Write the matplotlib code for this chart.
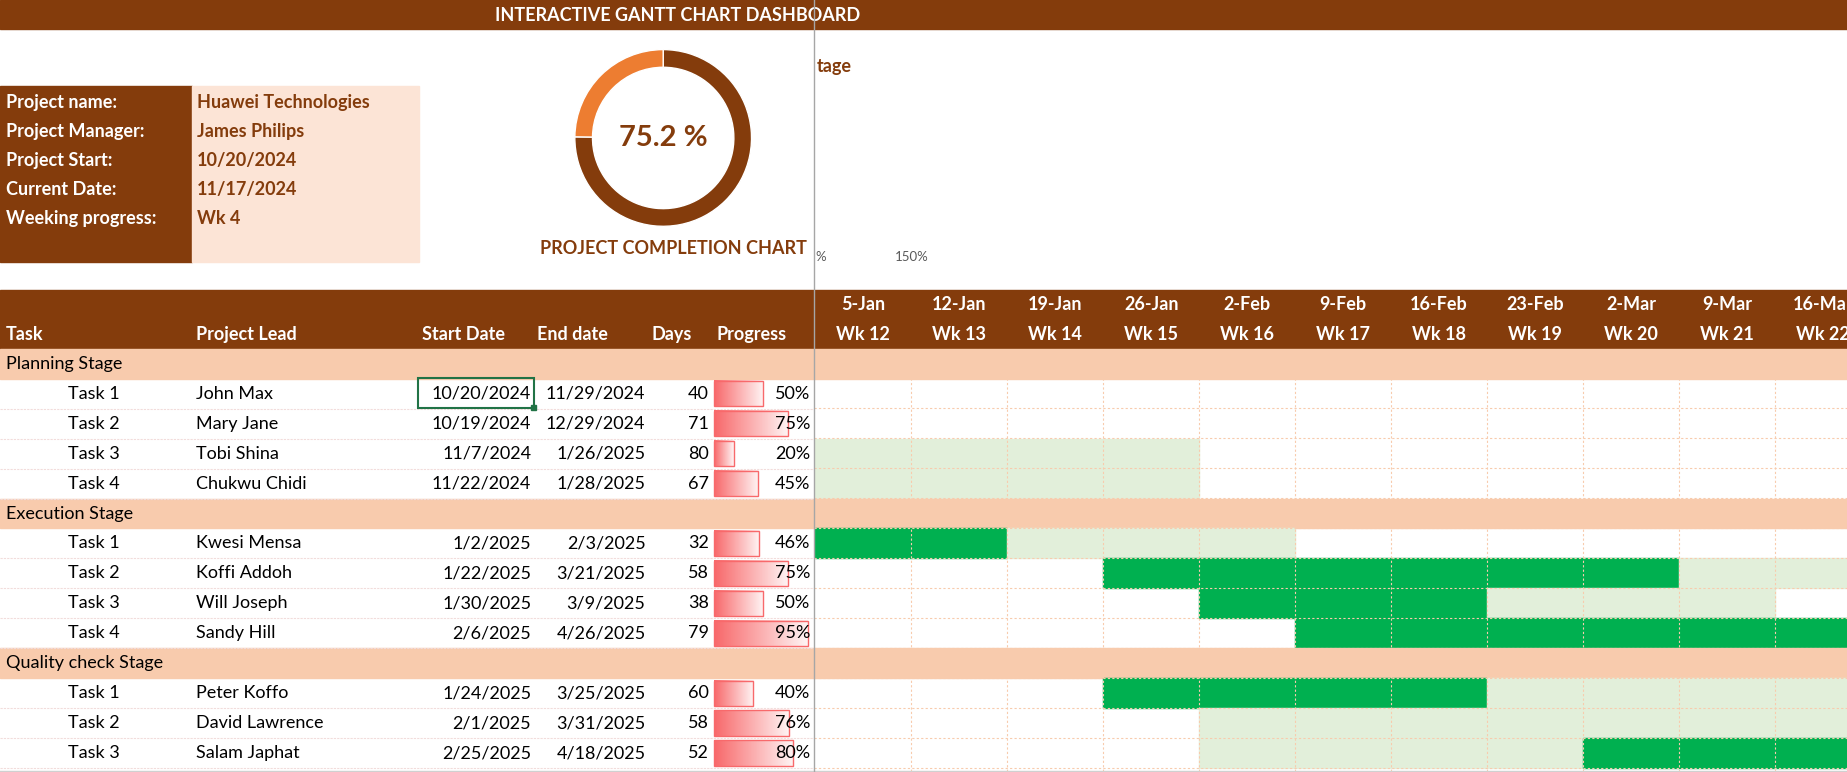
import matplotlib.pyplot as plt
import numpy as np
from matplotlib.patches import Rectangle
from matplotlib.colors import LinearSegmentedColormap

plt.rcParams['font.family'] = ['Lato', 'DejaVu Sans']

BROWN = '#843c0c'
ORANGE = '#ed7d31'
PEACH = '#f8cbad'
LIGHT_PEACH = '#fce4d6'
LIGHT_GREEN = '#e2efda'
GREEN = '#00b050'

# ---- data ----
info_labels = ['Project name:', 'Project Manager:', 'Project Start:', 'Current Date:', 'Weeking progress:']
info_values = ['Huawei Technologies', 'James Philips', '10/20/2024', '11/17/2024', 'Wk 4']
completion = 75.2

week_dates = ['5-Jan', '12-Jan', '19-Jan', '26-Jan', '2-Feb', '9-Feb', '16-Feb', '23-Feb', '2-Mar', '9-Mar', '16-Mar']
week_nums = ['Wk 12', 'Wk 13', 'Wk 14', 'Wk 15', 'Wk 16', 'Wk 17', 'Wk 18', 'Wk 19', 'Wk 20', 'Wk 21', 'Wk 22']

stages = ['Planning Stage', 'Execution Stage', 'Quality check Stage']
stage_tasks = [4, 4, 3]
tasks = ['Task 1', 'Task 2', 'Task 3', 'Task 4', 'Task 1', 'Task 2', 'Task 3', 'Task 4', 'Task 1', 'Task 2', 'Task 3']
leads = ['John Max', 'Mary Jane', 'Tobi Shina', 'Chukwu Chidi', 'Kwesi Mensa', 'Koffi Addoh',
         'Will Joseph', 'Sandy Hill', 'Peter Koffo', 'David Lawrence', 'Salam Japhat']
start_dates = ['10/20/2024', '10/19/2024', '11/7/2024', '11/22/2024', '1/2/2025', '1/22/2025',
               '1/30/2025', '2/6/2025', '1/24/2025', '2/1/2025', '2/25/2025']
end_dates = ['11/29/2024', '12/29/2024', '1/26/2025', '1/28/2025', '2/3/2025', '3/21/2025',
             '3/9/2025', '4/26/2025', '3/25/2025', '3/31/2025', '4/18/2025']
days = [40, 71, 80, 67, 32, 58, 38, 79, 60, 58, 52]
progress = [50, 75, 20, 45, 46, 75, 50, 95, 40, 76, 80]
# gantt cell state per week: 0 empty, 1 planned, 2 done
cells = [
    [0, 0, 0, 0, 0, 0, 0, 0, 0, 0, 0],
    [0, 0, 0, 0, 0, 0, 0, 0, 0, 0, 0],
    [1, 1, 1, 1, 0, 0, 0, 0, 0, 0, 0],
    [1, 1, 1, 1, 0, 0, 0, 0, 0, 0, 0],
    [2, 2, 1, 1, 1, 0, 0, 0, 0, 0, 0],
    [0, 0, 0, 2, 2, 2, 2, 2, 2, 1, 1],
    [0, 0, 0, 0, 2, 2, 2, 1, 1, 1, 0],
    [0, 0, 0, 0, 0, 2, 2, 2, 2, 2, 2],
    [0, 0, 0, 2, 2, 2, 2, 1, 1, 1, 1],
    [0, 0, 0, 0, 1, 1, 1, 1, 1, 1, 1],
    [0, 0, 0, 0, 1, 1, 1, 1, 2, 2, 2],
]

W, H = 1568, 655
fig = plt.figure(figsize=(18.47, 7.72), dpi=100)
ax = fig.add_axes([0, 0, 1, 1])
ax.set_xlim(0, W)
ax.set_ylim(H, 0)
ax.axis('off')

fs = 13
SPLIT = 691

# top band, title cut by the frozen pane
ax.add_patch(Rectangle((0, 0), W, 25, color=BROWN))
clip = Rectangle((0, 0), SPLIT, 25, transform=ax.transData, visible=False)
ax.add_patch(clip)
t = ax.text(575, 13, 'INTERACTIVE GANTT CHART DASHBOARD', color='white', fontsize=fs, fontweight='bold',
            ha='center', va='center')
t.set_clip_path(clip)
ax.text(693, 56, 'tage', color=BROWN, fontsize=fs, fontweight='bold', va='center')
ax.text(692, 218, '%', color='#595959', fontsize=9.5, va='center')
ax.text(760, 218, '150%', color='#595959', fontsize=9.5, va='center')

# info box
ax.add_patch(Rectangle((0, 73), 163, 149, color=BROWN))
ax.add_patch(Rectangle((163, 73), 193, 149, color=LIGHT_PEACH))
for i, (lab, val) in enumerate(zip(info_labels, info_values)):
    y = 87 + i * 24.5
    ax.text(5, y, lab, color='white', fontsize=fs, fontweight='bold', va='center')
    ax.text(167, y, val, color=BROWN, fontsize=fs, fontweight='bold', va='center')

# donut
cx, cy, r = 563, 117, 75
pax = fig.add_axes([(cx - r) / W, 1 - (cy + r) / H, 2 * r * 1.178 / 1847, 2 * r * 1.178 / 772])
pax.pie([completion, 100 - completion], colors=[BROWN, ORANGE], startangle=90, counterclock=False,
        radius=1, wedgeprops=dict(width=0.2, edgecolor='white', linewidth=1))
pax.set_xlim(-1, 1)
pax.set_ylim(-1, 1)
ax.text(cx, cy, f'{completion} %', color=BROWN, fontsize=21, fontweight='bold', ha='center', va='center')
ax.text(572, 211, 'PROJECT COMPLETION CHART', color=BROWN, fontsize=fs, fontweight='bold', ha='center', va='center')

# header band
ax.add_patch(Rectangle((0, 246), W, 50, color=BROWN))
for x, lbl in [(5, 'Task'), (166, 'Project Lead'), (358, 'Start Date'), (456, 'End date'),
               (553, 'Days'), (608, 'Progress')]:
    ax.text(x, 284, lbl, color='white', fontsize=fs, fontweight='bold', va='center')

col_x0, col_w = 692, 81.5
for j, (d, wk) in enumerate(zip(week_dates, week_nums)):
    xc = col_x0 + col_w * (j + 0.5)
    ax.text(xc, 258, d, color='white', fontsize=fs, fontweight='bold', ha='center', va='center')
    ax.text(xc, 284, wk, color='white', fontsize=fs, fontweight='bold', ha='center', va='center')

# rows
row_h = 25.4
cmap = LinearSegmentedColormap.from_list('g', ['#f8696b', '#fff4f4'])
grad = np.linspace(0, 1, 50).reshape(1, -1)
y = 296
k = 0
for s, n in zip(stages, stage_tasks):
    ax.add_patch(Rectangle((0, y), W, row_h, color=PEACH))
    ax.text(5, y + row_h / 2, s, color='black', fontsize=fs, va='center')
    y += row_h
    for _ in range(n):
        ym = y + row_h / 2
        for j, c in enumerate(cells[k]):
            if c:
                ax.add_patch(Rectangle((col_x0 + col_w * j, y), col_w, row_h,
                                       color=GREEN if c == 2 else LIGHT_GREEN))
        ax.text(58, ym, tasks[k], fontsize=fs, va='center')
        ax.text(166, ym, leads[k], fontsize=fs, va='center')
        ax.text(451, ym, start_dates[k], fontsize=fs, va='center', ha='right')
        ax.text(548, ym, end_dates[k], fontsize=fs, va='center', ha='right')
        ax.text(602, ym, str(days[k]), fontsize=fs, va='center', ha='right')
        bw = 84 * progress[k] / 100
        ax.imshow(grad, cmap=cmap, extent=(606, 606 + bw, y + row_h - 2, y + 2), aspect='auto', zorder=2)
        ax.add_patch(Rectangle((606, y + 2), bw, row_h - 4, fill=False, edgecolor='#f8696b', lw=1, zorder=3))
        ax.text(688, ym, f'{progress[k]}%', fontsize=fs, va='center', ha='right', zorder=4)
        ax.plot([0, SPLIT], [y + row_h, y + row_h], color='#f2dcdb', lw=0.8, ls=(0, (2, 1)))
        y += row_h
        k += 1

# gantt grid
for j in range(1, 11):
    ax.plot([col_x0 + col_w * j] * 2, [321, H], color='#f8cbad', lw=0.8, ls=(0, (2, 2)), zorder=1.5)
for i in range(14):
    yy = 321 + row_h * i
    ax.plot([SPLIT, W], [yy, yy], color='#f8cbad', lw=0.8, ls=(0, (2, 2)), zorder=1.5)

ax.set_xlim(0, W)
ax.set_ylim(H, 0)

# selected cell and split line
ax.add_patch(Rectangle((355, 321), 98, row_h, fill=False, edgecolor='#217346', lw=1.5, zorder=5))
ax.add_patch(Rectangle((451, 344), 4, 4, color='#217346', zorder=6))
ax.plot([SPLIT, SPLIT], [0, H], color='#a6a6a6', lw=1, zorder=6)
ax.plot([0, W], [H - 0.5, H - 0.5], color='#d0d0d0', lw=1)

fig.savefig('out.png', dpi=100)
